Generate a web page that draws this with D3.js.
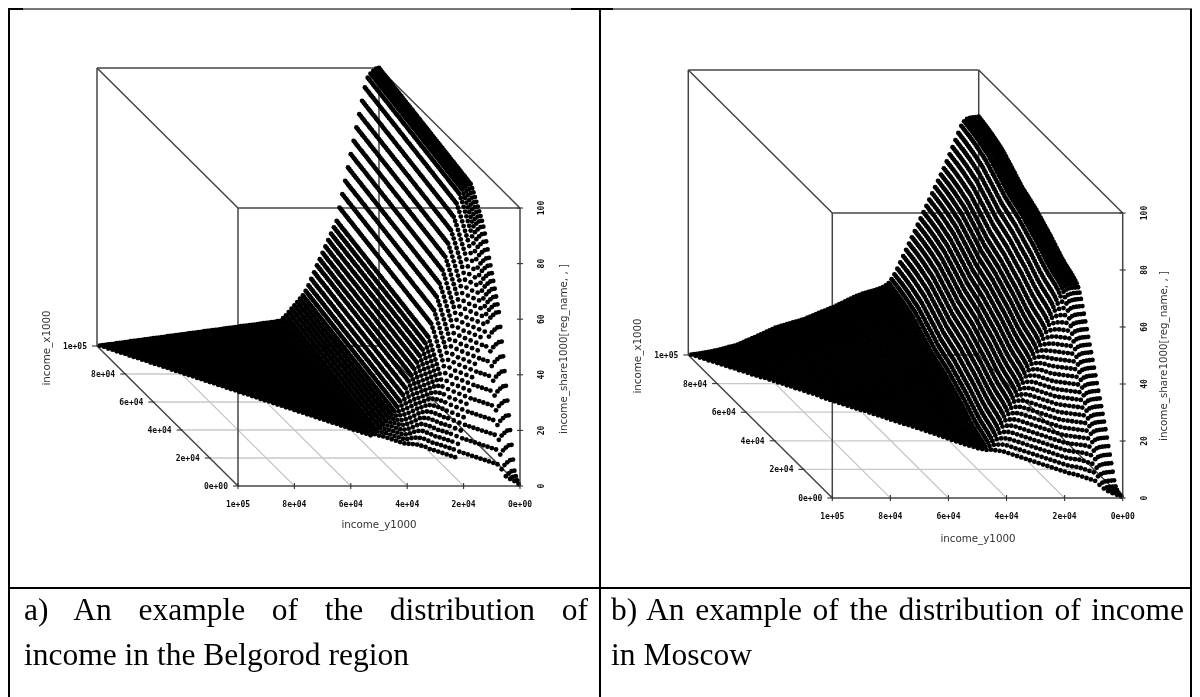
<!DOCTYPE html>
<html>
<head>
<meta charset="utf-8">
<style>
  body { margin: 0; background: #fff; }
  text { fill: #111; }
  .tick { font: bold 8px "DejaVu Sans Mono", monospace; }
  .axisName { font: 10.3px "DejaVu Sans", sans-serif; fill: #333; }
  .caption { font: 31.5px "Liberation Serif", serif; fill: #000; }
</style>
<script src="https://cdn.jsdelivr.net/npm/d3@7"></script>
</head>
<body>
<div id="my_dataviz"></div>
<script>
// income grid, one level every 1000 (0 .. 100000)
const incomeLevels = [
  0, 1000, 2000, 3000, 4000, 5000, 6000, 7000, 8000, 9000,
  10000, 11000, 12000, 13000, 14000, 15000, 16000, 17000, 18000, 19000,
  20000, 21000, 22000, 23000, 24000, 25000, 26000, 27000, 28000, 29000,
  30000, 31000, 32000, 33000, 34000, 35000, 36000, 37000, 38000, 39000,
  40000, 41000, 42000, 43000, 44000, 45000, 46000, 47000, 48000, 49000,
  50000, 51000, 52000, 53000, 54000, 55000, 56000, 57000, 58000, 59000,
  60000, 61000, 62000, 63000, 64000, 65000, 66000, 67000, 68000, 69000,
  70000, 71000, 72000, 73000, 74000, 75000, 76000, 77000, 78000, 79000,
  80000, 81000, 82000, 83000, 84000, 85000, 86000, 87000, 88000, 89000,
  90000, 91000, 92000, 93000, 94000, 95000, 96000, 97000, 98000, 99000,
  100000];

// share of people below each income level
const belgorodShare = [
  0, 0.2, 1, 2, 3.5, 7, 11.8, 16.6, 21.4, 26.2,
  31, 35.8, 40.6, 45.4, 50.2, 55, 57.3, 59.6, 61.9, 64.2,
  66.5, 68.8, 71, 73.5, 75.9, 78.2, 80.2, 81.8, 83, 84.2,
  85.4, 86.6, 87.8, 89, 90, 91, 91.1, 91.3, 91.4, 91.6,
  91.7, 91.8, 92, 92.1, 92.3, 92.4, 92.5, 92.7, 92.8, 92.9,
  93.1, 93.2, 93.4, 93.5, 93.6, 93.8, 93.9, 94.1, 94.2, 94.3,
  94.5, 94.6, 94.7, 94.9, 95, 95.2, 95.3, 95.4, 95.6, 95.7,
  95.8, 96, 96.1, 96.3, 96.4, 96.5, 96.7, 96.8, 97, 97.1,
  97.2, 97.4, 97.5, 97.6, 97.8, 97.9, 98.1, 98.2, 98.3, 98.5,
  98.6, 98.8, 98.9, 99, 99.2, 99.3, 99.4, 99.6, 99.7, 99.9,
  100];

const moscowShare = [
  0, 0.1, 0.2, 0.4, 0.8, 1.6, 3.2, 5.7, 8.2, 10.7,
  13.2, 15.7, 18.1, 20.3, 22.5, 24.7, 26.9, 29.1, 31.3, 33.5,
  35.7, 37.9, 40.1, 42.3, 44.5, 46.7, 48.9, 51.1, 53.3, 55.3,
  57, 58.4, 59.2, 59.8, 60.2, 60.6, 60.9, 61.2, 61.5, 61.8,
  62.1, 62.5, 62.9, 63.3, 63.8, 64.3, 64.8, 65.3, 65.8, 66.3,
  66.8, 67.2, 67.6, 68, 68.4, 68.8, 69.3, 69.7, 70.1, 70.5,
  71, 71.3, 71.6, 71.9, 72.2, 72.5, 72.8, 73.1, 73.4, 73.7,
  74, 74.5, 75, 75.4, 75.9, 76.4, 76.8, 77.3, 77.7, 78.2,
  78.6, 79.1, 79.5, 80, 80.3, 80.6, 80.8, 81.1, 81.4, 81.6,
  81.9, 82.1, 82.3, 82.5, 82.7, 82.9, 83, 83.2, 83.3, 83.5,
  83.6];

const incomeTicks = [0, 20000, 40000, 60000, 80000, 100000];
const incomeTickLabels = ["0e+00", "2e+04", "4e+04", "6e+04", "8e+04", "1e+05"];
const shareTicks = [0, 20, 40, 60, 80, 100];

const captionsA = ["a) An example of the distribution of", "income in the Belgorod region"];
const captionsB = ["b) An example of the distribution of income", "in Moscow"];

const width = 1200, height = 697;

const svg = d3.select("#my_dataviz")
  .append("svg")
  .attr("width", width)
  .attr("height", height)
  .style("display", "block");

svg.append("defs").append("filter")
  .attr("id", "soft")
  .attr("filterUnits", "userSpaceOnUse")
  .attr("x", 0).attr("y", 0)
  .attr("width", width).attr("height", height)
  .append("feGaussianBlur")
  .attr("stdDeviation", 0.45);

function drawPanel(shares, p) {
  // p.x0, p.y0 is the front right corner of the floor
  const yAcross = d3.scaleLinear().domain([0, 100000]).range([p.x0, p.x0 - p.span]);
  const xDepthH = d3.scaleLinear().domain([0, 100000]).range([0, -p.depthH]);
  const xDepthV = d3.scaleLinear().domain([0, 100000]).range([0, -p.depthV]);
  const zUp = d3.scaleLinear().domain([0, 100]).range([0, -p.rise]);

  const px = (x, y) => yAcross(y) + xDepthH(x);
  const py = (x, z) => p.y0 + xDepthV(x) + zUp(z);

  const g = svg.append("g").attr("filter", "url(#soft)");

  const seg = (x1, y1, z1, x2, y2, z2) => ({
    x1: px(x1, y1), y1: py(x1, z1), x2: px(x2, y2), y2: py(x2, z2)
  });

  // floor grid
  const inner = incomeTicks.slice(1, -1);
  const grid = inner.map(t => seg(t, 0, 0, t, 100000, 0))
    .concat(inner.map(t => seg(0, t, 0, 100000, t, 0)));
  g.append("g").selectAll("line").data(grid).join("line")
    .attr("x1", d => d.x1).attr("y1", d => d.y1)
    .attr("x2", d => d.x2).attr("y2", d => d.y2)
    .attr("stroke", "#c8c8c8").attr("stroke-width", 1.3);

  // box around the cloud
  const M = 100000;
  const box = [
    seg(M, M, 0, M, M, 100), seg(M, M, 100, M, 0, 100), seg(M, M, 100, 0, M, 100),
    seg(0, M, 100, 0, 0, 100), seg(M, 0, 100, 0, 0, 100), seg(M, 0, 0, M, 0, 100),
    seg(0, M, 0, 0, M, 100), seg(0, 0, 0, 0, 0, 100), seg(0, M, 0, 0, 0, 0),
    seg(M, 0, 0, 0, 0, 0), seg(M, M, 0, M, 0, 0), seg(M, M, 0, 0, M, 0)
  ];
  g.append("g").selectAll("line").data(box).join("line")
    .attr("x1", d => d.x1).attr("y1", d => d.y1)
    .attr("x2", d => d.x2).attr("y2", d => d.y2)
    .attr("stroke", "#444").attr("stroke-width", 1.5);

  // the cloud: share of people between income y and income x
  const points = [];
  incomeLevels.forEach((y, j) => {
    incomeLevels.forEach((x, i) => {
      if (x > y) points.push({ x: x, y: y, z: shares[i] - shares[j] });
    });
  });
  g.append("g").selectAll("circle").data(points).join("circle")
    .attr("cx", d => px(d.x, d.y))
    .attr("cy", d => py(d.x, d.z))
    .attr("r", 2.4)
    .attr("fill", "#000");

  // tick marks
  const marks = incomeTicks.map(t => ({
    x1: yAcross(t), y1: p.y0 - 3, x2: yAcross(t), y2: p.y0 + 3
  })).concat(incomeTicks.map(t => ({
    x1: px(t, M) - 5, y1: py(t, 0), x2: px(t, M) + 1, y2: py(t, 0)
  }))).concat(shareTicks.map(t => ({
    x1: p.x0 - 3, y1: py(0, t), x2: p.x0 + 3, y2: py(0, t)
  })));
  g.append("g").selectAll("line").data(marks).join("line")
    .attr("x1", d => d.x1).attr("y1", d => d.y1)
    .attr("x2", d => d.x2).attr("y2", d => d.y2)
    .attr("stroke", "#333").attr("stroke-width", 1.1);

  // tick labels
  g.append("g").selectAll("text").data(incomeTicks).join("text")
    .attr("class", "tick")
    .attr("x", d => yAcross(d))
    .attr("y", p.y0 + 21)
    .attr("text-anchor", "middle")
    .text((d, i) => incomeTickLabels[i]);

  g.append("g").selectAll("text").data(incomeTicks).join("text")
    .attr("class", "tick")
    .attr("x", d => px(d, M) - 10)
    .attr("y", d => py(d, 0) + 3)
    .attr("text-anchor", "end")
    .text((d, i) => incomeTickLabels[i]);

  g.append("g").selectAll("text").data(shareTicks).join("text")
    .attr("class", "tick")
    .attr("text-anchor", "middle")
    .attr("transform", d => `translate(${p.x0 + 24},${py(0, d)})rotate(-90)`)
    .text(d => d);

  // axis names
  g.append("text").attr("class", "axisName")
    .attr("text-anchor", "middle")
    .attr("x", p.yName[0]).attr("y", p.yName[1])
    .text("income_y1000");
  g.append("text").attr("class", "axisName")
    .attr("text-anchor", "middle")
    .attr("transform", `translate(${p.xName[0]},${p.xName[1]})rotate(-90)`)
    .text("income_x1000");
  g.append("text").attr("class", "axisName")
    .attr("text-anchor", "middle")
    .attr("transform", `translate(${p.zName[0]},${p.zName[1]})rotate(-90)`)
    .text("income_share1000[reg_name, , ]");
}

drawPanel(belgorodShare, {
  x0: 520, y0: 486, span: 282, depthH: 141, depthV: 140, rise: 278,
  yName: [379, 528], xName: [50, 348], zName: [567, 349]
});
drawPanel(moscowShare, {
  x0: 1122.7, y0: 498, span: 290.4, depthH: 144, depthV: 143, rise: 285,
  yName: [978, 542], xName: [641, 356], zName: [1167, 356]
});

// table rules
const rules = [
  { x1: 23, y1: 9, x2: 571, y2: 9, c: "#777" },
  { x1: 613, y1: 9, x2: 1192, y2: 9, c: "#777" },
  { x1: 8, y1: 9, x2: 23, y2: 9, c: "#000" },
  { x1: 571, y1: 9, x2: 613, y2: 9, c: "#000" },
  { x1: 9, y1: 9, x2: 9, y2: 697, c: "#000" },
  { x1: 600, y1: 9, x2: 600, y2: 697, c: "#000" },
  { x1: 1191, y1: 9, x2: 1191, y2: 697, c: "#000" },
  { x1: 9, y1: 588, x2: 1191, y2: 588, c: "#000" }
];
svg.append("g").selectAll("line").data(rules).join("line")
  .attr("x1", d => d.x1).attr("y1", d => d.y1)
  .attr("x2", d => d.x2).attr("y2", d => d.y2)
  .attr("stroke", d => d.c).attr("stroke-width", 2);

// captions, first lines are justified to the cell like in the original table
function caption(lines, x, right) {
  lines.forEach((line, i) => {
    const t = svg.append("text").attr("class", "caption")
      .attr("x", x).attr("y", 620 + i * 45).text(line);
    if (i === 0) {
      const gaps = line.split(" ").length - 1;
      const extra = (right - x - t.node().getComputedTextLength()) / gaps;
      t.attr("word-spacing", extra);
    }
  });
}
caption(captionsA, 24, 588);
caption(captionsB, 611, 1184);
</script>
</body>
</html>
